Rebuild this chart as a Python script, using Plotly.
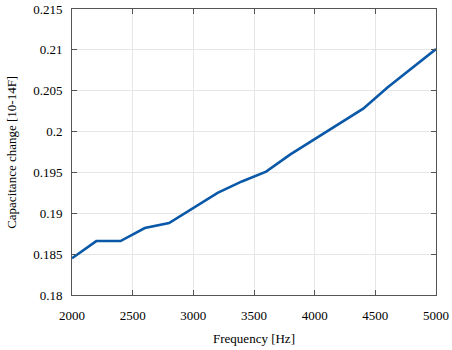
import plotly.graph_objects as go

freq = [2000, 2200, 2400, 2600, 2800, 3000, 3200, 3400, 3600, 3800,
        4000, 4200, 4400, 4600, 4800, 5000]
cap = [0.1845, 0.1866, 0.1866, 0.1882, 0.1888, 0.1907, 0.1925, 0.1939,
       0.1951, 0.1972, 0.1991, 0.2010, 0.2028, 0.2054, 0.2078, 0.2101]
x_ticks = [2000, 2500, 3000, 3500, 4000, 4500, 5000]
y_ticks = [0.18, 0.185, 0.19, 0.195, 0.2, 0.205, 0.21, 0.215]
y_tick_text = ["0.18", "0.185", "0.19", "0.195", "0.2", "0.205", "0.21", "0.215"]
x_title = "Frequency [Hz]"
y_title = "Capacitance change [10-14F]"

FONT = "Liberation Serif, Times New Roman, serif"

fig = go.Figure()
fig.add_trace(go.Scatter(x=freq, y=cap, mode="lines",
                         line=dict(color="#0a58a8", width=2.6)))

axis_common = dict(showline=True, linecolor="#555555", linewidth=1,
                   mirror="ticks", ticks="inside", ticklen=5, tickcolor="#555555",
                   showgrid=True, gridcolor="#e6e6e6", gridwidth=1, zeroline=False,
                   automargin=False,
                   tickfont=dict(family=FONT, size=13, color="#000000"))

fig.update_layout(
    width=452, height=350,
    margin=dict(l=72, r=16, t=9, b=55),
    paper_bgcolor="white", plot_bgcolor="white",
    showlegend=False,
    font=dict(family=FONT, size=13, color="#000000"),
    xaxis=dict(range=[2000, 5000], tickvals=x_ticks, ticklabelstandoff=8,
               title=dict(text=x_title, standoff=12,
                          font=dict(family=FONT, size=13)),
               **axis_common),
    yaxis=dict(range=[0.18, 0.215], tickvals=y_ticks, ticktext=y_tick_text,
               ticklabelstandoff=6, **axis_common),
)

fig.add_annotation(text=y_title, xref="paper", yref="paper",
                   x=-0.168, y=0.5, xanchor="center", yanchor="middle",
                   textangle=-90, showarrow=False,
                   font=dict(family=FONT, size=13, color="#000000"))

fig.write_html("out.html", config={"displayModeBar": False},
               post_script="document.body.style.margin='0';document.body.style.overflow='hidden';")
